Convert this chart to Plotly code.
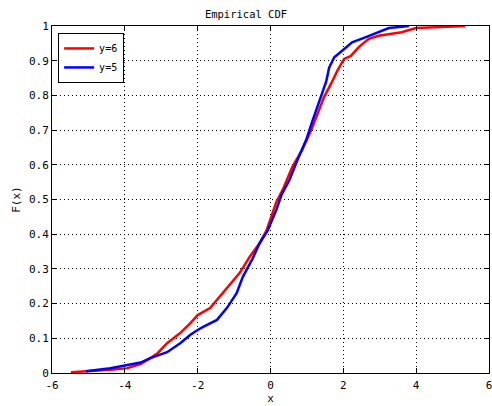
import plotly.graph_objects as go

# Empirical CDF (x, F(x))
red_x = [-5.48, -5.1, -4.7, -4.3, -3.93, -3.57, -3.3, -3.1, -2.84, -2.48, -2.2, -2.0,
         -1.66, -1.39, -1.12, -0.85, -0.57, -0.38, -0.3, -0.11, 0.03, 0.16, 0.33, 0.6,
         0.87, 1.12, 1.26, 1.47, 1.66, 1.83, 2.02, 2.2, 2.43, 2.7, 2.97, 3.25, 3.6, 4.0,
         4.5, 5.0, 5.35]
red_F = [0.002, 0.004, 0.007, 0.01, 0.014, 0.026, 0.043, 0.057, 0.086, 0.115, 0.144, 0.167,
         0.187, 0.22, 0.254, 0.288, 0.335, 0.363, 0.374, 0.41, 0.45, 0.493, 0.527, 0.594,
         0.643, 0.70, 0.738, 0.795, 0.833, 0.87, 0.905, 0.913, 0.94, 0.963, 0.972, 0.977,
         0.982, 0.994, 0.996, 0.998, 1.0]

blue_x = [-5.07, -4.7, -4.4, -3.93, -3.57, -3.3, -3.1, -2.84, -2.48, -2.2, -2.0, -1.85,
          -1.47, -1.2, -0.93, -0.76, -0.49, -0.3, -0.08, 0.16, 0.3, 0.52, 0.74, 0.98,
          1.15, 1.39, 1.53, 1.61, 1.75, 1.96, 2.24, 2.62, 2.97, 3.25, 3.8]
blue_F = [0.005, 0.01, 0.014, 0.023, 0.03, 0.043, 0.05, 0.06, 0.086, 0.11, 0.124, 0.133,
          0.153, 0.187, 0.23, 0.277, 0.33, 0.374, 0.41, 0.47, 0.513, 0.556, 0.614, 0.672,
          0.726, 0.795, 0.84, 0.88, 0.91, 0.928, 0.953, 0.968, 0.983, 0.994, 1.0]

x_ticks = [-6, -4, -2, 0, 2, 4, 6]
y_ticks = [0, 0.1, 0.2, 0.3, 0.4, 0.5, 0.6, 0.7, 0.8, 0.9, 1]
y_tick_text = ["0", "0.1", "0.2", "0.3", "0.4", "0.5", "0.6", "0.7", "0.8", "0.9", "1"]

FONT = "DejaVu Sans Mono"

fig = go.Figure()
fig.add_trace(go.Scatter(x=red_x, y=red_F, mode="lines", name="y=6",
                         line=dict(color="#ff0000", width=2.5)))
fig.add_trace(go.Scatter(x=blue_x, y=blue_F, mode="lines", name="y=5",
                         line=dict(color="#0000ff", width=2.5)))

axis_common = dict(
    showline=True, linecolor="#000000", linewidth=1, mirror="ticks",
    ticks="inside", ticklen=5, tickcolor="#000000",
    showgrid=True, gridcolor="#000000", gridwidth=1, griddash="1px,3px",
    zeroline=False, tickfont=dict(family=FONT, size=11, color="#000000"),
    ticklabeloverflow="allow",
)

fig.update_layout(
    width=492, height=406,
    margin=dict(l=52, r=0, t=26, b=33),
    paper_bgcolor="#ffffff", plot_bgcolor="#ffffff",
    font=dict(family=FONT, size=11, color="#000000"),
    title=dict(text="Empirical CDF", x=0.5, xanchor="center", y=1, yref="paper",
               yanchor="bottom", pad=dict(b=8), font=dict(family=FONT, size=10.5)),
    showlegend=True,
    legend=dict(x=0.014, y=0.98, xanchor="left", yanchor="top",
                bgcolor="#ffffff", bordercolor="#000000", borderwidth=1,
                font=dict(family=FONT, size=10), tracegroupgap=0),
    xaxis=dict(range=[-6, 6], tickvals=x_ticks, ticktext=[str(v) for v in x_ticks],
               ticklabelstandoff=2,
               title=dict(text="x", standoff=2, font=dict(family=FONT, size=11)),
               **axis_common),
    yaxis=dict(range=[0, 1], tickvals=y_ticks, ticktext=y_tick_text,
               title=dict(text="F(x)", standoff=6, font=dict(family=FONT, size=11)),
               **axis_common),
)

fig.write_html("out.html")
